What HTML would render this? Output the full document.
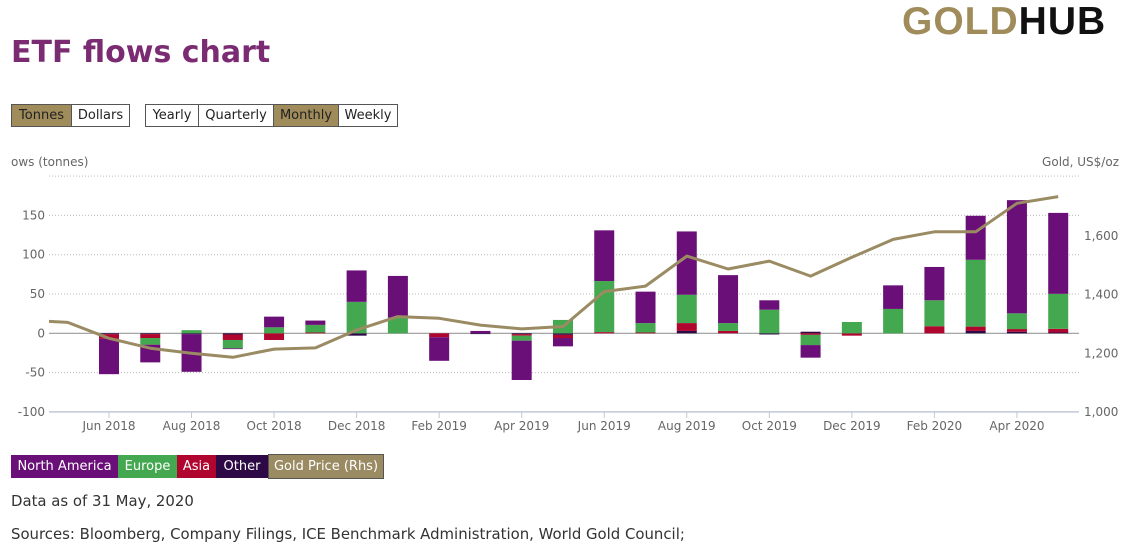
<!DOCTYPE html>
<html><head><meta charset="utf-8">
<style>
body{margin:0;width:1126px;height:546px;background:#fff;font-family:"DejaVu Sans","Liberation Sans",sans-serif;position:relative;overflow:hidden;color:#333}
.logo{position:absolute;left:902px;top:1px;font-family:"Liberation Sans",sans-serif;font-weight:bold;font-size:39px;letter-spacing:1px;line-height:42px}
.title{position:absolute;left:11px;top:34px;font-weight:bold;font-size:30px;color:#7a2b72;line-height:38px}
.btn{position:absolute;top:104px;height:21px;border:1px solid #555;font-size:13px;line-height:21px;text-align:center;background:#fff;color:#222;box-sizing:content-box}
.on{background:#a08c5b}
.leg{position:absolute;top:455px;height:23px;line-height:23px;font-size:13px;color:#fff;text-align:center}
.txt{position:absolute;left:11px;font-size:14.9px;color:#333}
svg{position:absolute;left:0;top:0}
</style></head><body>
<div class="logo"><span style="color:#a08c5b">GOLD</span><span style="color:#111">HUB</span></div>
<div class="title">ETF flows chart</div>
<div class="btn on" style="left:11px;width:59px">Tonnes</div>
<div class="btn" style="left:71px;width:57px">Dollars</div>
<div class="btn" style="left:145px;width:52px">Yearly</div>
<div class="btn" style="left:198px;width:74px">Quarterly</div>
<div class="btn on" style="left:273px;width:64px">Monthly</div>
<div class="btn" style="left:338px;width:58px">Weekly</div>

<svg id="chart" width="1126" height="546"></svg>

<div class="leg" style="left:11px;width:107px;background:#6a0f78">North America</div>
<div class="leg" style="left:118px;width:59px;background:#43a84f">Europe</div>
<div class="leg" style="left:177px;width:39px;background:#b0052f">Asia</div>
<div class="leg" style="left:216px;width:52px;background:#2d0a45">Other</div>
<div class="leg" style="left:268px;width:114px;background:#9a8b63;border:1px solid #555;top:454px">Gold Price (Rhs)</div>
<div class="txt" style="top:492px">Data as of 31 May, 2020</div>
<div class="txt" style="top:525px">Sources: Bloomberg, Company Filings, ICE Benchmark Administration, World Gold Council;</div>

<script>
const months = ["Jun 2018","Jul 2018","Aug 2018","Sep 2018","Oct 2018","Nov 2018","Dec 2018","Jan 2019","Feb 2019","Mar 2019","Apr 2019","May 2019","Jun 2019","Jul 2019","Aug 2019","Sep 2019","Oct 2019","Nov 2019","Dec 2019","Jan 2020","Feb 2020","Mar 2020","Apr 2020","May 2020"];
const otherVals = [-1,-1,-1,-1.5,0,0,-3,0,0,-1,-1,-2,0,0,3,0,-1.5,2,0,0,0,3,2,1];
const asiaVals = [-6,-5,0,-7,-8.5,1,0,0,-5,0,-2,-4,1.5,1,10,3,0,-2,-3,0,9,5.5,3.4,4.7];
const europeVals = [0,-8.5,4,-10.6,7.6,9.7,40,20,0,0,-6.4,17,65,12,36,10,30,-13,14.4,31,33,85,20,44.5];
const naVals = [-45,-22.5,-48,-1,13.6,5.5,40,53,-30,3,-50,-10.6,64.5,40,80.6,61,12,-16,0,30,42.4,56,144,103];
const priceMonths = ["Apr 2018","May 2018"].concat(months);
const priceVals = [1310,1302,1248,1214,1197,1183,1211,1215,1276,1322,1316,1293,1280,1288,1407,1426,1528,1484,1511,1460,1524,1585,1611,1611,1708,1731];
const leftTicks = [-100,-50,0,50,100,150,200];
const rightTicks = [1000,1200,1400,1600];
const xLabels = ["Jun 2018","Aug 2018","Oct 2018","Dec 2018","Feb 2019","Apr 2019","Jun 2019","Aug 2019","Oct 2019","Dec 2019","Feb 2020","Apr 2020"];

const NS="http://www.w3.org/2000/svg";
const svg=document.getElementById('chart');
const L=49,R=1079;
const yL=v=>333.3-v*0.786;
const yR=p=>411-(p-1000)*0.2933;
const xM=name=>{const i=months.indexOf(name);return 109+ (i>=0?i:priceMonths.indexOf(name)-2)*41.27;};
function el(t,a){const e=document.createElementNS(NS,t);for(const k in a)e.setAttribute(k,a[k]);svg.appendChild(e);return e;}

leftTicks.forEach(v=>{
  const y=yL(v);
  let g;
  if(v===-100) g=el('line',{x1:L,x2:R,y1:y,y2:y,stroke:'#c0c8d8','stroke-width':1.5});
  else if(v===0) g=el('line',{x1:L,x2:R,y1:y,y2:y,stroke:'#999','stroke-width':1.2});
  else g=el('line',{x1:L,x2:R,y1:y,y2:y,stroke:'#bbb','stroke-width':1,'stroke-dasharray':'1,2'});
  
  
  if(v<200){
    const t=el('text',{x:45,y:y+4,'text-anchor':'end','font-size':12,fill:'#666'});
    t.textContent=v;
    
    
  }
});
rightTicks.forEach(p=>{
  const t=el('text',{x:1084,y:yR(p)+5,'font-size':12,fill:'#666'});
  t.textContent=p.toLocaleString('en-US');
  
  
});
xLabels.forEach(m=>{
  const x=xM(m);
  const tk=el('line',{x1:x,x2:x,y1:412,y2:418,stroke:'#c0c8d8'});
  
  
  const t=el('text',{x:x,y:430,'text-anchor':'middle','font-size':12,fill:'#666'});
  t.textContent=m;
  
  
});
let t1=el('text',{x:11,y:166,'font-size':12,fill:'#666'});t1.textContent='ows (tonnes)';


let t2=el('text',{x:1119,y:166,'font-size':12,fill:'#666','text-anchor':'end'});t2.textContent='Gold, US$/oz';



const series=[[otherVals,'#2d0a45','other'],[asiaVals,'#b0052f','asia'],[europeVals,'#43a84f','europe'],[naVals,'#6a0f78','north-america']];
months.forEach((m,i)=>{
  let pos=0,neg=0;const x=xM(m)-10;
  series.forEach(([arr,c,n])=>{
    const v=arr[i];if(!v)return;
    let a,b;
    if(v>0){a=pos;b=pos+v;pos=b;}else{a=neg;b=neg+v;neg=b;}
    const y1=yL(Math.max(a,b)),y2=yL(Math.min(a,b));
    const r=el('rect',{x:x,y:y1,width:20,height:Math.max(y2-y1,0.5),fill:c});
    
    
  });
});
const cp=el('clipPath',{id:'cp'});
const cr=document.createElementNS(NS,'rect');cr.setAttribute('x',L);cr.setAttribute('y',170);cr.setAttribute('width',R-L);cr.setAttribute('height',250);cp.appendChild(cr);
const pts=priceVals.map((p,i)=>xM(priceMonths[i]).toFixed(1)+','+yR(p).toFixed(1)).join(' ');
const pl=el('polyline',{points:pts,fill:'none',stroke:'#9a8b63','stroke-width':3,'clip-path':'url(#cp)','stroke-linejoin':'round'});


</script>
</body></html>
